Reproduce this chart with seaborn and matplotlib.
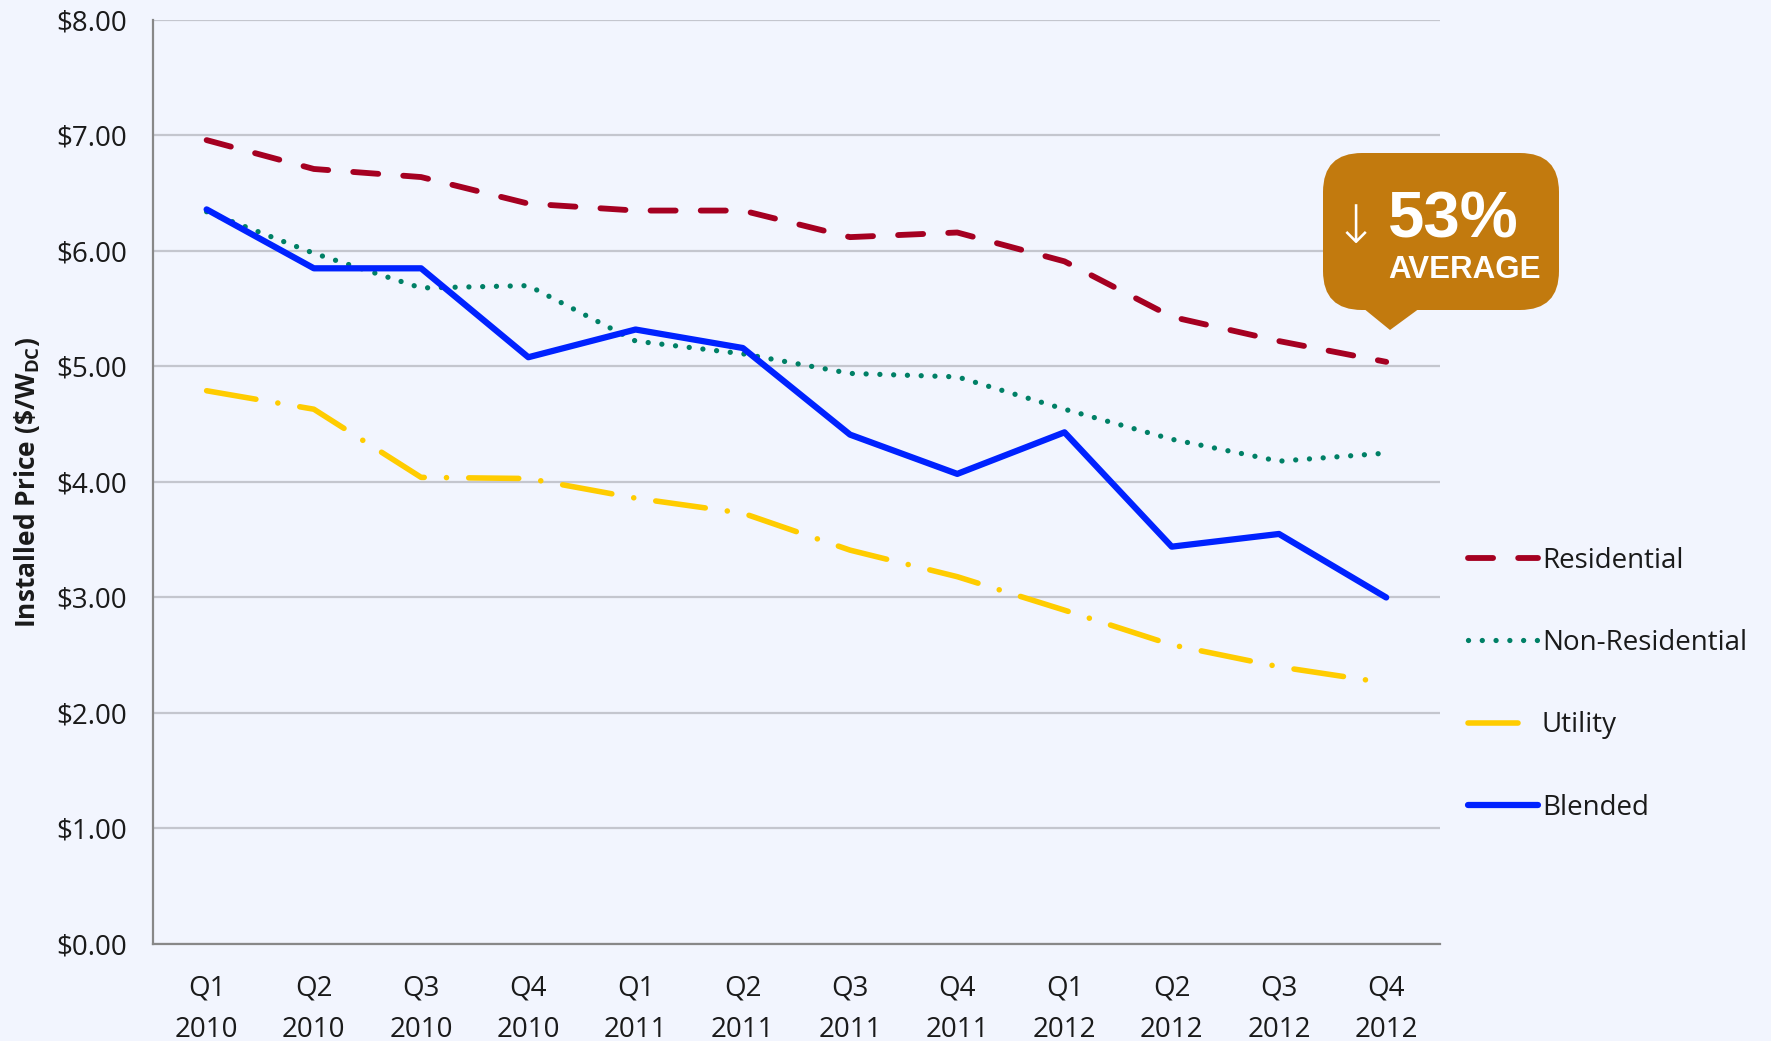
import numpy as np
import pandas as pd
import matplotlib
matplotlib.use('Agg')
import matplotlib.pyplot as plt
from matplotlib.patches import FancyBboxPatch, Polygon
import seaborn as sns

# data
quarters = ['Q1\n2010', 'Q2\n2010', 'Q3\n2010', 'Q4\n2010',
            'Q1\n2011', 'Q2\n2011', 'Q3\n2011', 'Q4\n2011',
            'Q1\n2012', 'Q2\n2012', 'Q3\n2012', 'Q4\n2012']
residential = [6.96, 6.71, 6.64, 6.41, 6.35, 6.35, 6.12, 6.16, 5.91, 5.43, 5.22, 5.04]
non_residential = [6.34, 5.98, 5.68, 5.70, 5.22, 5.11, 4.94, 4.91, 4.63, 4.37, 4.18, 4.25]
utility = [4.79, 4.63, 4.04, 4.03, 3.86, 3.73, 3.41, 3.18, 2.89, 2.59, 2.40, 2.26]
blended = [6.36, 5.85, 5.85, 5.08, 5.32, 5.16, 4.41, 4.07, 4.43, 3.44, 3.55, 3.00]
y_ticks = [0, 1, 2, 3, 4, 5, 6, 7, 8]

bg = '#F2F5FE'
sns.set_style('white')
plt.rcParams['font.family'] = ['Open Sans', 'DejaVu Sans']

fig = plt.figure(figsize=(17.71, 10.41), dpi=100, facecolor=bg)
ax = fig.add_axes([0.0864, 0.0932, 0.813 - 0.0864, 0.9808 - 0.0932])
ax.set_facecolor(bg)

x = np.arange(len(quarters))
sns.lineplot(x=x, y=residential, ax=ax, color='#A50021', lw=4.2,
             linestyle=(0, (4.3, 4.3)), dash_capstyle='round', label='Residential')
sns.lineplot(x=x, y=non_residential, ax=ax, color='#008066', lw=3.8,
             linestyle=(0, (0.01, 2.6)), dash_capstyle='round', label='Non-Residential')
sns.lineplot(x=x, y=utility, ax=ax, color='#FFCC00', lw=4,
             linestyle=(0, (9, 4, 0.01, 4)), dash_capstyle='round', label='Utility')
sns.lineplot(x=x, y=blended, ax=ax, color='#0022FF', lw=4.5,
             linestyle='-', solid_capstyle='round', label='Blended')

ax.set_xlim(-0.5, len(quarters) - 0.5)
ax.set_ylim(0, 8)
ax.set_yticks(y_ticks)
ax.set_yticklabels(['$%.2f' % v for v in y_ticks], fontsize=20, color='#1A1A1A')
ax.yaxis.grid(True, color='#C4C6CE', lw=1.6)
ax.set_axisbelow(True)

ax.set_xticks(x)
ax.set_xticklabels(quarters, fontsize=20, color='#1A1A1A', linespacing=1.65)
ax.tick_params(axis='x', length=0, pad=22)
ax.set_xticks(np.arange(-0.5, len(quarters)), minor=True)
ax.tick_params(axis='x', which='minor', length=9, width=1.3, color='#888888', direction='out')
ax.tick_params(axis='y', length=9, width=1.3, color='#888888', direction='out', pad=10)

for s in ['top', 'right']:
    ax.spines[s].set_visible(False)
for s in ['left', 'bottom']:
    ax.spines[s].set_color('#888888')
    ax.spines[s].set_linewidth(1.6)

ax.set_ylabel(r'Installed Price (\$/W$_{\mathregular{DC}}$)', fontsize=19,
              fontweight='bold', color='#1A1A1A', labelpad=10)

leg = ax.legend(loc='upper left', bbox_to_anchor=(0.829, 0.4745), bbox_transform=fig.transFigure,
                frameon=False, fontsize=20, handlelength=2.5, handletextpad=0.15,
                labelspacing=1.95, borderpad=0, borderaxespad=0)
for t in leg.get_texts():
    t.set_color('#1A1A1A')

# callout box
W, H = 1771.0, 1041.0
box = FancyBboxPatch((1323 / W, 1 - 310 / H), (1559 - 1323) / W, (310 - 153) / H,
                     boxstyle='round,pad=0,rounding_size=0.022', transform=fig.transFigure,
                     facecolor='#C27A0E', edgecolor='none', mutation_aspect=W / H)
fig.patches.append(box)
tri = Polygon([(1363 / W, 1 - 308 / H), (1420 / W, 1 - 308 / H), (1390 / W, 1 - 330 / H)],
              closed=True, transform=fig.transFigure, facecolor='#C27A0E', edgecolor='none')
fig.patches.append(tri)
fig.text(1356 / W, 1 - 228 / H, '\u2193', color='white', fontsize=38, ha='center', va='center',
         family='DejaVu Sans', fontweight='light')
fig.text(1453 / W, 1 - 220 / H, '53%', color='white', fontsize=47, ha='center', va='center',
         family='Liberation Sans', fontweight='bold')
fig.text(1464 / W, 1 - 270 / H, 'AVERAGE', color='white', fontsize=22.5, ha='center', va='center',
         family='Liberation Sans', fontweight='bold')

plt.savefig('out.png', dpi=100, facecolor=bg)
